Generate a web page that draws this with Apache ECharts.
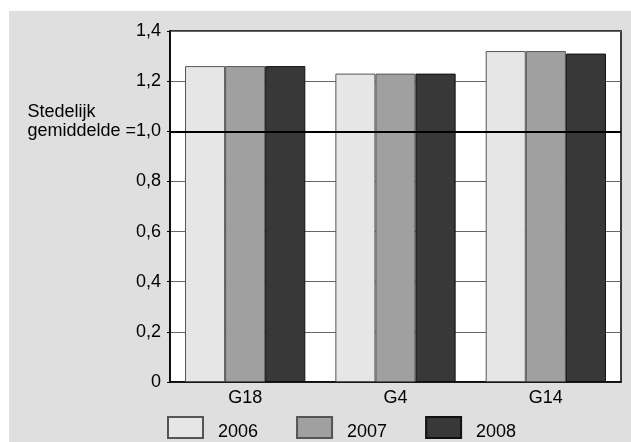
<!DOCTYPE html>
<html><head><meta charset="utf-8">
<script src="https://cdn.jsdelivr.net/npm/echarts@6/dist/echarts.min.js"></script>
<style>html,body{margin:0;padding:0;background:#fff}#c{width:631px;height:442px}</style>
</head><body><div id="c"></div>
<script>
var categories = ['G18', 'G4', 'G14'];
var years = ['2006', '2007', '2008'];
var values2006 = [1.26, 1.23, 1.32];
var values2007 = [1.26, 1.23, 1.32];
var values2008 = [1.26, 1.23, 1.31];
var yTickLabels = {0: '0', 0.2: '0,2', 0.4: '0,4', 0.6: '0,6', 0.8: '0,8', 1: 'gemiddelde =1,0', 1.2: '1,2', 1.4: '1,4'};
var referenceLevel = 1.0;

var colors = ['#e6e6e6', '#a0a0a0', '#383838'];
var borders = ['#555', '#555', '#111'];
var font = 'Liberation Sans, Arial, Helvetica, sans-serif';
var fs = 18;
var data = [values2006, values2007, values2008];

var series = years.map(function (y, i) {
  var s = {
    name: y, type: 'bar', data: data[i],
    barGap: '0%', barCategoryGap: '20%',
    itemStyle: {color: colors[i], borderColor: borders[i], borderWidth: 1},
    emphasis: {disabled: true}
  };
  if (i === 2) {
    s.markLine = {
      silent: true, symbol: 'none', z: 10,
      label: {show: false},
      lineStyle: {color: '#000', width: 2, type: 'solid'},
      data: [{yAxis: referenceLevel}]
    };
  }
  return s;
});

var chart = echarts.init(document.getElementById('c'), null, {renderer: 'canvas'});
chart.setOption({
  animation: false,
  backgroundColor: '#fff',
  graphic: [{type: 'rect', z: -10, shape: {x: 9, y: 11, width: 622, height: 431}, style: {fill: '#dfdfdf'}}],
  grid: {left: 170, right: 10, top: 31, bottom: 60, show: true, backgroundColor: '#fff', borderColor: '#000', borderWidth: 1.5},
  legend: {
    left: 167, top: 416, padding: 0, itemWidth: 35, itemHeight: 21, itemGap: 38,
    icon: 'rect',
    formatter: '{t|{name}}',
    textStyle: {
      fontFamily: font, fontSize: fs, color: '#000',
      rich: {t: {fontFamily: font, fontSize: fs, color: '#000', padding: [10, 0, 0, 10]}}
    },
    data: years
  },
  xAxis: {
    type: 'category', data: categories,
    axisLine: {lineStyle: {color: '#000', width: 1.5}},
    axisTick: {show: false},
    axisLabel: {fontFamily: font, fontSize: fs, color: '#000', margin: 7}
  },
  yAxis: {
    type: 'value', min: 0, max: 1.4, interval: 0.2,
    axisLine: {show: true, lineStyle: {color: '#000', width: 1.5}},
    axisTick: {show: true, length: 3, lineStyle: {color: '#000'}},
    splitLine: {lineStyle: {color: '#666', width: 1}},
    axisLabel: {
      fontFamily: font, fontSize: fs, color: '#000', margin: 9,
      formatter: function (v) {
        var k = Math.round(v * 10) / 10;
        var t = yTickLabels[k];
        if (k === 1) return '{a|Stedelijk}\n{b|' + t + '}\n{c| }';
        return t;
      },
      rich: {
        a: {align: 'left', fontFamily: font, fontSize: fs, lineHeight: 19, color: '#000'},
        b: {fontFamily: font, fontSize: fs, lineHeight: 19, color: '#000'},
        c: {fontFamily: font, fontSize: fs, lineHeight: 19, color: '#000'}
      }
    }
  },
  series: series
});
</script></body></html>
